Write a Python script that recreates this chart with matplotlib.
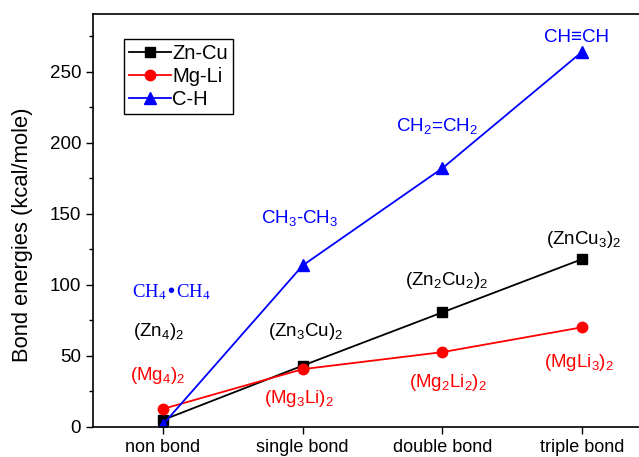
import numpy as np
import matplotlib
matplotlib.use('Agg')
import matplotlib.pyplot as plt

plt.rcParams['font.family'] = ['Liberation Sans', 'DejaVu Sans']
plt.rcParams['mathtext.default'] = 'regular'

# bond types on the x axis
bonds = ['non bond', 'single bond', 'double bond', 'triple bond']

# bond energies in kcal/mole
zn_cu = [4.7, 43, 80.5, 118]
mg_li = [12.5, 40.5, 52.5, 70]
c_h = [1.5, 113.5, 182, 264]

# cluster / molecule names
zn_names = [r'(Zn$_4$)$_2$', r'(Zn$_3$Cu)$_2$', r'(Zn$_2$Cu$_2$)$_2$', r'(ZnCu$_3$)$_2$']
mg_names = [r'(Mg$_4$)$_2$', r'(Mg$_3$Li)$_2$', r'(Mg$_2$Li$_2$)$_2$', r'(MgLi$_3$)$_2$']
ch_names = [r'CH$_4$•CH$_4$', r'CH$_3$-CH$_3$', r'CH$_2$=CH$_2$', 'CH≡CH']

fig = plt.figure(figsize=(6.39, 4.57), dpi=100)
ax = fig.add_axes([93 / 639, 30.3 / 457, 548 / 639, 412.7 / 457])

x = np.arange(len(bonds))
ax.plot(x, zn_cu, color='black', marker='s', markersize=7, lw=1.3, label='Zn-Cu')
ax.plot(x, mg_li, color='red', marker='o', markersize=7.5, lw=1.3, label='Mg-Li')
ax.plot(x, c_h, color='blue', marker='^', markersize=8, lw=1.3, label='C-H')

# labels next to the points
zn_pos = [(-0.03, 67), (1.02, 67), (2.03, 103), (3.01, 132)]
mg_pos = [(-0.04, 36), (0.97, 20), (2.04, 31), (2.975, 45)]
ch_pos = [(0.06, 95), (0.975, 147), (1.96, 212), (2.96, 274)]
for (px, py), t in zip(zn_pos, zn_names):
    ax.text(px, py, t, color='black', fontsize=13.5, ha='center', va='center')
for (px, py), t in zip(mg_pos, mg_names):
    ax.text(px, py, t, color='red', fontsize=13.5, ha='center', va='center')
for i, ((px, py), t) in enumerate(zip(ch_pos, ch_names)):
    fam = ['Liberation Serif', 'DejaVu Serif'] if i == 0 else ['Liberation Sans', 'DejaVu Sans']
    ax.text(px, py, t, color='blue', fontsize=13.5, ha='center', va='center', family=fam)

ax.set_xlim(-0.5, 3.42)
ax.set_ylim(0, 290.5)
ax.set_xticks(x)
ax.set_xticklabels(bonds, fontsize=13)
ax.set_yticks(np.arange(0, 300, 50))
ax.set_yticks(np.arange(25, 300, 50), minor=True)
ax.tick_params(axis='y', labelsize=13.5, direction='out', length=5, width=1)
ax.tick_params(axis='y', which='minor', direction='out', length=3, width=1)
ax.tick_params(axis='x', direction='out', length=5, width=1)
ax.set_ylabel('Bond energies (kcal/mole)', fontsize=15.8, va='center')
ax.yaxis.set_label_coords(-0.128, 0.466)
for s in ax.spines.values():
    s.set_linewidth(1.2)

leg = ax.legend(loc='upper left', bbox_to_anchor=(0.056, 0.94), fontsize=14.5,
                fancybox=False, edgecolor='black', framealpha=1,
                handlelength=2.1, handletextpad=0.05, borderpad=0.25,
                labelspacing=0.2, borderaxespad=0)
leg.get_frame().set_linewidth(1.0)

plt.savefig('out.png', dpi=100)
